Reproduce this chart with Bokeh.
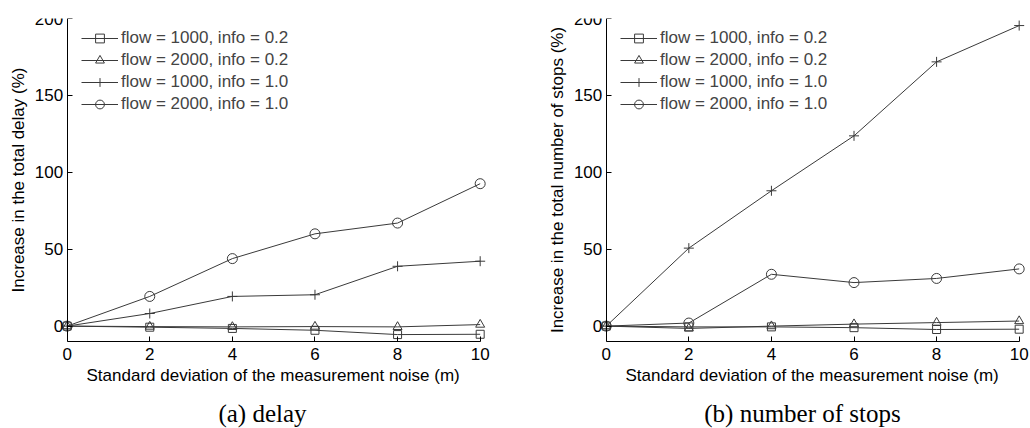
from bokeh.plotting import figure
from bokeh.layouts import row, column
from bokeh.models import Range1d, FixedTicker, Title, Legend, LegendItem
from bokeh.core.properties import value
from bokeh.embed import file_html
from bokeh.resources import INLINE

noise_std = [0, 2, 4, 6, 8, 10]
series_labels = ["flow = 1000, info = 0.2", "flow = 2000, info = 0.2",
                 "flow = 1000, info = 1.0", "flow = 2000, info = 1.0"]
series_markers = ["square", "triangle", "cross", "circle"]

delay_f1000_i02 = [0, -0.7, -1.5, -2.7, -5.5, -5.3]
delay_f2000_i02 = [0, -0.3, -0.5, -0.3, -0.5, 1.0]
delay_f1000_i10 = [0, 8.2, 19.3, 20.4, 38.9, 42.2]
delay_f2000_i10 = [0, 19.3, 43.9, 60.0, 67.0, 92.6]

stops_f1000_i02 = [0, -0.5, -0.5, -1.0, -2.2, -2.0]
stops_f2000_i02 = [0, -1.5, 0.0, 1.3, 2.3, 3.3]
stops_f1000_i10 = [0, 50.7, 88.0, 123.7, 171.8, 195.4]
stops_f2000_i10 = [0, 2.0, 33.7, 28.3, 31.0, 37.2]

x_ticks = [0, 2, 4, 6, 8, 10]
y_ticks = [0, 50, 100, 150, 200]

x_label = "Standard deviation of the measurement noise (m)"
captions = ["(a) delay", "(b) number of stops"]

FONT = "Liberation Sans"
LINE_COLOR = "#3a3a3a"
MARKER_SIZE = {"square": 8, "triangle": 9, "cross": 10, "circle": 10}


def make_panel(series, ylabel, x_start, border_right, xlab_offset, leg_x):
    p = figure(width=515, height=395, output_backend="svg", toolbar_location=None,
               x_range=Range1d(x_start, 10.25), y_range=Range1d(-10, 200),
               min_border_left=0, min_border_right=border_right,
               min_border_top=18, min_border_bottom=54)
    p.outline_line_color = None
    p.grid.visible = False
    p.background_fill_color = "white"
    p.border_fill_color = "white"

    items = []
    for vals, lab, mk in zip(series, series_labels, series_markers):
        r1 = p.line(noise_std, vals, line_color=LINE_COLOR, line_width=1)
        r2 = p.scatter(noise_std, vals, marker=mk, size=MARKER_SIZE[mk],
                       line_color=LINE_COLOR, fill_color=None, line_width=1)
        items.append(LegendItem(label=lab, renderers=[r1, r2]))

    leg = Legend(items=items, location=(leg_x, 226))
    leg.border_line_color = None
    leg.background_fill_alpha = 0
    leg.label_text_font = FONT
    leg.label_text_font_size = "17px"
    leg.glyph_width = 37
    leg.glyph_height = 22
    leg.label_height = 22
    leg.spacing = 0
    leg.label_standoff = 3
    leg.margin = 0
    leg.padding = 5
    p.add_layout(leg)

    for ax in (p.xaxis[0], p.yaxis[0]):
        ax.major_tick_in = 5
        ax.major_tick_out = 0
        ax.minor_tick_line_color = None
        ax.axis_line_color = "black"
        ax.major_tick_line_color = "black"
        ax.major_label_text_font = FONT
        ax.major_label_text_font_size = "17px"
        ax.major_label_text_color = "black"
        ax.axis_label_text_font = FONT
        ax.axis_label_text_font_size = "17px"
        ax.axis_label_text_font_style = "normal"
        ax.axis_label_text_color = "black"

    p.xaxis.ticker = FixedTicker(ticks=x_ticks)
    p.yaxis.ticker = FixedTicker(ticks=y_ticks)
    p.xaxis.bounds = (0, 10)
    p.yaxis.fixed_location = 0
    p.yaxis.axis_label = ylabel
    p.xaxis.major_label_standoff = 6
    p.yaxis.major_label_standoff = 4
    p.yaxis.axis_label_standoff = 4

    p.add_layout(Title(text=x_label, align="left", offset=xlab_offset,
                       text_font=FONT, text_font_size="17px",
                       text_font_style="normal", text_color="black",
                       standoff=2), "below")
    return p


def make_caption(text, cx):
    c = figure(width=515, height=33, output_backend="svg", toolbar_location=None,
               x_range=Range1d(0, 515), y_range=Range1d(0, 33),
               x_axis_location=None, y_axis_location=None,
               min_border_left=0, min_border_right=0,
               min_border_top=0, min_border_bottom=0)
    c.outline_line_color = None
    c.grid.visible = False
    c.text(x=[cx], y=[15], text=[text], text_font=value("Liberation Serif"),
           text_font_size="25px", text_align="center", text_baseline="middle",
           text_color="black")
    return c


p1 = make_panel([delay_f1000_i02, delay_f2000_i02, delay_f1000_i10, delay_f2000_i10],
                "Increase in the total delay (%)", -1.614, 25, 86, 81)
p2 = make_panel([stops_f1000_i02, stops_f2000_i02, stops_f1000_i10, stops_f2000_i10],
                "Increase in the total number of stops (%)", -2.198, 1, 110, 105)

c1 = make_caption(captions[0], 262)
c2 = make_caption(captions[1], 287)

layout = column(row(p1, p2), row(c1, c2))
open("out.html", "w").write(file_html(layout, INLINE))
